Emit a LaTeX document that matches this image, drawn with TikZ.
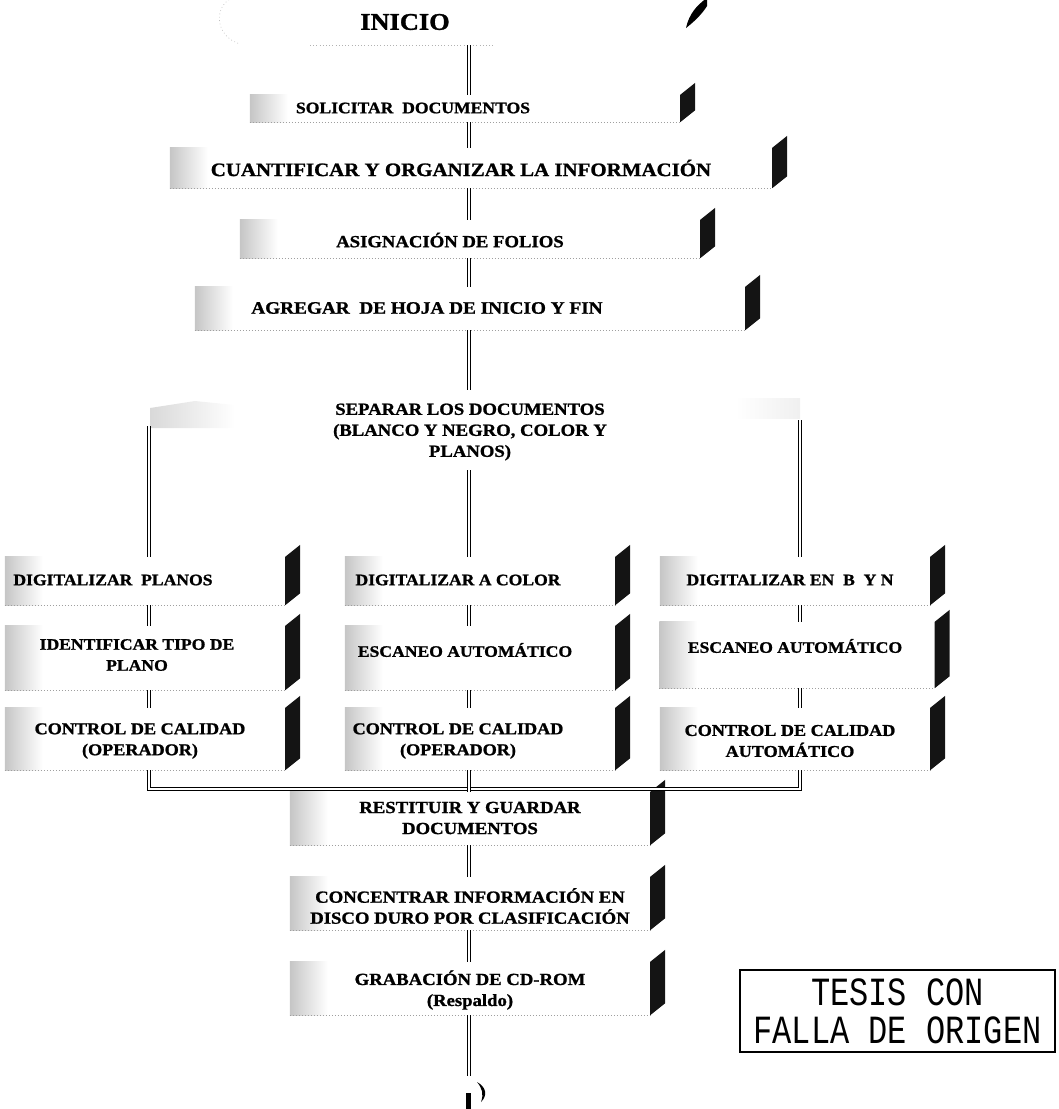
\documentclass[tikz,border=0pt]{standalone}
\usepackage{fontspec}
\setmainfont{Liberation Serif}
\newfontfamily\stepfont[FakeStretch=1.1, BoldFeatures={FakeBold=1.2}]{Liberation Serif}
\newfontfamily\stampfont{Liberation Mono}

% faint dotted outline, grainy left end and dark slanted side of a step box
\newcommand\boxdeco[1]{%
  \shade[left color=gray!45, right color=white] (#1.south west) rectangle ([xshift=38pt]#1.north west);
  \draw[gray!75, line width=0.8pt, dash pattern=on 0.8pt off 2.2pt] (#1.south west) -- (#1.south east);
  \draw[gray!45, line width=0.6pt, dash pattern=on 0.8pt off 2.8pt] (#1.south west) -- (#1.north west);
  \fill[black!92] (#1.south east) -- (#1.north east) -- ([shift={(15pt,12pt)}]#1.north east)
    -- ([shift={(15pt,12pt)}]#1.south east) -- cycle;
}

\begin{document}
\begin{tikzpicture}[x=1pt,y=-1pt,
  lbl/.style={font=\stepfont\bfseries\fontsize{#1}{21}\selectfont, align=center, inner sep=0pt},
  lbl/.default=17,
  stepbox/.style={rectangle, inner sep=0pt},
  conn/.style={double, double distance=2.2pt, line width=0.9pt},
  stamp/.style={draw, line width=1.3pt, inner sep=0pt, align=center,
    font=\stampfont\fontsize{32}{36}\selectfont}
]
\useasboundingbox (0,0) rectangle (1059,1109);

% column axes
\coordinate (colL) at (149,0);
\coordinate (colM) at (469,0);
\coordinate (colR) at (800,0);

% start terminal: only its left rounded end and part of the bottom edge show
\node[rectangle, minimum width=482pt, minimum height=50pt, inner sep=0pt] (start) at (459,20) {};
\draw[gray!50, line width=0.6pt, dash pattern=on 0.8pt off 2.6pt]
  (232,-2) .. controls (214,6) and (214,36) .. (240,44);
\draw[gray!60, line width=0.7pt, dash pattern=on 0.8pt off 2.4pt] (310,45) -- (495,45);
\node[lbl, font=\stepfont\bfseries\fontsize{24}{28}\selectfont] (startT) at (405,22) {INICIO};
\fill[black] (686,28) .. controls (689,14) and (697,5) .. (707,-2) -- (707,6)
  .. controls (702,14) and (695,21) .. (686,28) -- cycle;

% sequential steps
\node[stepbox, minimum width=430pt, minimum height=27pt] (b1) at (465,108.5) {};
\boxdeco{b1}
\node[lbl=16] (b1T) at (413,108) {SOLICITAR\ \ DOCUMENTOS};

\node[stepbox, minimum width=602pt, minimum height=40pt] (b2) at (471,168) {};
\boxdeco{b2}
\node[lbl=19] (b2T) at (461,168) {CUANTIFICAR Y ORGANIZAR LA INFORMACIÓN};

\node[stepbox, minimum width=460pt, minimum height=38pt] (b3) at (470,239) {};
\boxdeco{b3}
\node[lbl] (b3T) at (450,240) {ASIGNACIÓN DE FOLIOS};

\node[stepbox, minimum width=550pt, minimum height=43pt] (b4) at (470,308.5) {};
\boxdeco{b4}
\node[lbl=17.5] (b4T) at (427,308) {AGREGAR\ \ DE HOJA DE INICIO Y FIN};

% split step
\node[lbl, minimum width=650pt, minimum height=76pt] (sep) at (470,432)
  {SEPARAR LOS DOCUMENTOS\\(BLANCO Y NEGRO, COLOR Y\\PLANOS)};
\shade[left color=gray!30, right color=white] (150,408) -- (195,401) -- (235,405) -- (235,428) -- (150,428) -- cycle;
\shade[left color=white, right color=gray!12] (735,398) rectangle (800,418);
\coordinate (sepL) at (149,426);
\coordinate (sepR) at (800,420);

% first row of branches
\node[stepbox, minimum width=280pt, minimum height=48pt] (dp) at (145,581) {};
\boxdeco{dp}
\node[lbl=16] (dpT) at (113,580) {DIGITALIZAR\ \ PLANOS};
\node[stepbox, minimum width=270pt, minimum height=48pt] (dc) at (480,581) {};
\boxdeco{dc}
\node[lbl=16] (dcT) at (458,580) {DIGITALIZAR A COLOR};
\node[stepbox, minimum width=270pt, minimum height=48pt] (db) at (795,581) {};
\boxdeco{db}
\node[lbl=16] (dbT) at (790,580) {DIGITALIZAR EN\ \ B\ \ Y N};

% second row
\node[stepbox, minimum width=280pt, minimum height=64pt] (ip) at (145,658) {};
\boxdeco{ip}
\node[lbl=16] (ipT) at (137,655) {IDENTIFICAR TIPO DE\\PLANO};
\node[stepbox, minimum width=270pt, minimum height=64pt] (ec) at (480,658) {};
\boxdeco{ec}
\node[lbl=16] (ecT) at (465,650) {ESCANEO AUTOMÁTICO};
\node[stepbox, minimum width=275pt, minimum height=66pt] (eb) at (797,655) {};
\boxdeco{eb}
\node[lbl=16] (ebT) at (795,646) {ESCANEO AUTOMÁTICO};

% third row
\node[stepbox, minimum width=280pt, minimum height=62pt] (cp) at (145,739) {};
\boxdeco{cp}
\node[lbl=16.5] (cpT) at (140,741) {CONTROL DE CALIDAD\\(OPERADOR)};
\node[stepbox, minimum width=270pt, minimum height=62pt] (cc) at (480,739) {};
\boxdeco{cc}
\node[lbl=16.5] (ccT) at (458,741) {CONTROL DE CALIDAD\\(OPERADOR)};
\node[stepbox, minimum width=270pt, minimum height=62pt] (ca) at (795,739) {};
\boxdeco{ca}
\node[lbl=16.5] (caT) at (790,741) {CONTROL DE CALIDAD\\AUTOMÁTICO};

\coordinate (mL) at (149,789);
\coordinate (mR) at (800,789);

% closing steps
\node[stepbox, minimum width=360pt, minimum height=53pt] (r1) at (470,818.5) {};
\boxdeco{r1}
\node[lbl] (r1T) at (470,818) {RESTITUIR Y GUARDAR\\DOCUMENTOS};
\node[stepbox, minimum width=360pt, minimum height=53pt] (r2) at (470,903.5) {};
\boxdeco{r2}
\node[lbl] (r2T) at (470,906) {CONCENTRAR INFORMACIÓN EN\\DISCO DURO POR CLASIFICACIÓN};
\node[stepbox, minimum width=360pt, minimum height=53pt] (r3) at (470,988.5) {};
\boxdeco{r3}
\node[lbl] (r3T) at (470,990) {GRABACIÓN DE CD-ROM\\(Respaldo)};

\coordinate (endc) at (469,1076);
\fill[black] (466,1093) rectangle (471,1109);
\fill[black] (477,1082) .. controls (486,1087) and (488,1095) .. (481,1102)
  .. controls (484,1094) and (482,1088) .. (477,1082) -- cycle;

% connectors
\draw[conn] (start.south -| colM) -- (b1.north -| colM);
\draw[conn] (b1.south -| colM) -- (b2.north -| colM);
\draw[conn] (b2.south -| colM) -- (b3.north -| colM);
\draw[conn] (b3.south -| colM) -- (b4.north -| colM);
\draw[conn] (b4.south -| colM) -- ([yshift=4pt]sep.north -| colM);
\draw[conn] (sepL) -- (dp.north -| colL);
\draw[conn] (sep.south -| colM) -- (dc.north -| colM);
\draw[conn] (sepR) -- (db.north -| colR);
\draw[conn] (dp.south -| colL) -- (ip.north -| colL);
\draw[conn] (dc.south -| colM) -- (ec.north -| colM);
\draw[conn] (db.south -| colR) -- (eb.north -| colR);
\draw[conn] (ip.south -| colL) -- (cp.north -| colL);
\draw[conn] (ec.south -| colM) -- (cc.north -| colM);
\draw[conn] (eb.south -| colR) -- (ca.north -| colR);
\draw[conn] (cp.south -| colL) -- (mL) -- (mR) -- (ca.south -| colR);
\draw[conn] (cc.south -| colM) -- (r1.north -| colM);
\draw[conn] (r1.south -| colM) -- (r2.north -| colM);
\draw[conn] (r2.south -| colM) -- (r3.north -| colM);
\draw[conn] (r3.south -| colM) -- (endc);

% stamp
\node[stamp, minimum width=315pt, minimum height=82pt] (stampbox) at (897.5,1011)
  {\scalebox{1}[1.25]{TESIS CON}\\[2pt]\scalebox{1}[1.25]{FALLA DE ORIGEN}};
\end{tikzpicture}
\end{document}
